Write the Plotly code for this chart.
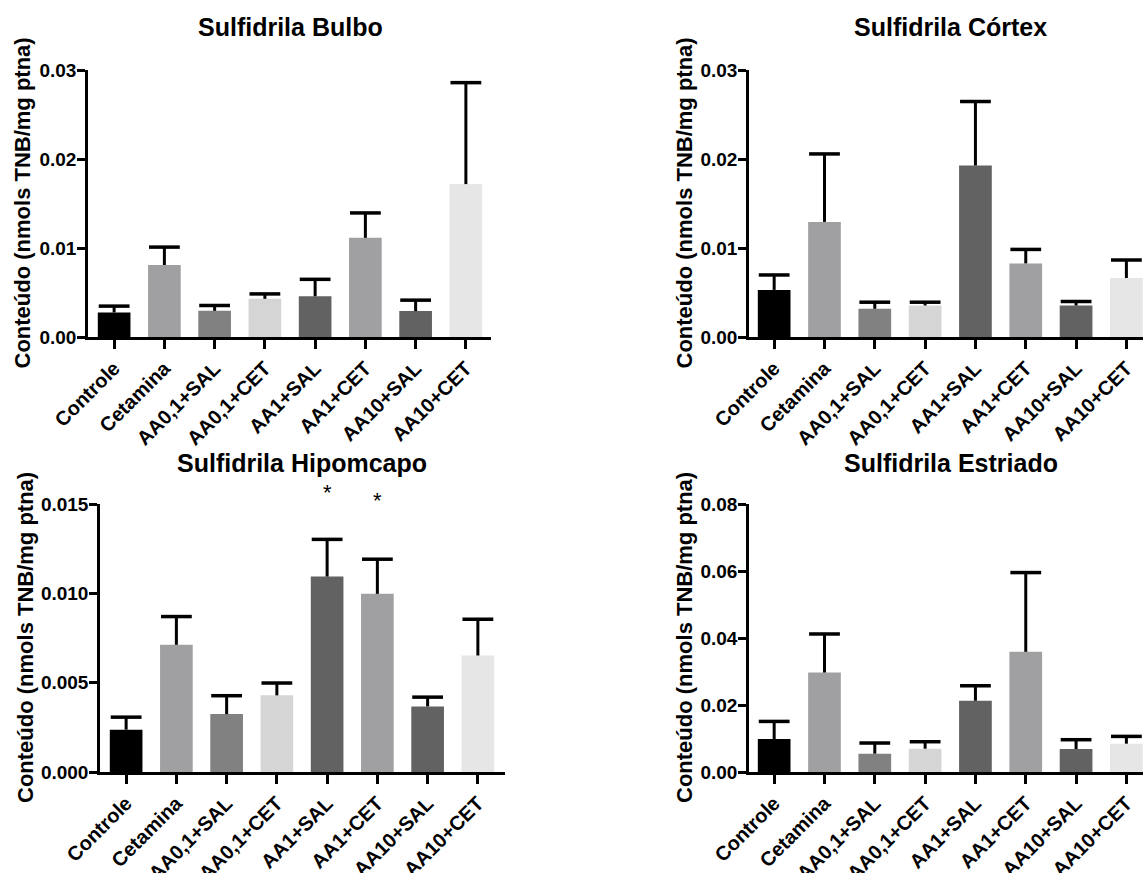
import plotly.graph_objects as go

W, H = 1143, 873

categories = ["Controle", "Cetamina", "AA0,1+SAL", "AA0,1+CET", "AA1+SAL", "AA1+CET", "AA10+SAL", "AA10+CET"]
bar_colors = ["#000000", "#a0a0a3", "#818181", "#d5d5d5", "#626262", "#a0a0a3", "#626262", "#e6e6e6"]

bulbo_mean = [0.00276, 0.00809, 0.00294, 0.00429, 0.00458, 0.01114, 0.00291, 0.01718]
bulbo_top = [0.00347, 0.01010, 0.00354, 0.00484, 0.00648, 0.01394, 0.00414, 0.02858]

cortex_mean = [0.00529, 0.01293, 0.00317, 0.00354, 0.01927, 0.00827, 0.00354, 0.00663]
cortex_top = [0.00697, 0.02057, 0.00391, 0.00391, 0.02646, 0.00984, 0.00399, 0.00865]

hipo_mean = [0.00237, 0.00712, 0.00324, 0.00429, 0.01094, 0.00997, 0.00367, 0.00652]
hipo_top = [0.00307, 0.00870, 0.00427, 0.00498, 0.01302, 0.01191, 0.00419, 0.00855]

estr_mean = [0.00984, 0.02970, 0.00547, 0.00696, 0.02127, 0.03588, 0.00686, 0.00845]
estr_top = [0.01510, 0.04120, 0.00865, 0.00904, 0.02574, 0.05953, 0.00964, 0.01063]

titles = ["Sulfidrila Bulbo", "Sulfidrila Córtex", "Sulfidrila Hipomcapo", "Sulfidrila Estriado"]
y_title = "Conteúdo (nmols TNB/mg ptna)"
y_ticks = [
    ([0, 0.01, 0.02, 0.03], ["0.00", "0.01", "0.02", "0.03"]),
    ([0, 0.01, 0.02, 0.03], ["0.00", "0.01", "0.02", "0.03"]),
    ([0, 0.005, 0.010, 0.015], ["0.000", "0.005", "0.010", "0.015"]),
    ([0, 0.02, 0.04, 0.06, 0.08], ["0.00", "0.02", "0.04", "0.06", "0.08"]),
]
y_max = [0.03, 0.03, 0.015, 0.08]
star_cats = ["AA1+SAL", "AA1+CET"]
star_y = [0.01567, 0.01517]

panels = [
    (bulbo_mean, bulbo_top),
    (cortex_mean, cortex_top),
    (hipo_mean, hipo_top),
    (estr_mean, estr_top),
]

# pixel layout: (x_left, x_right, y_zero, y_top, xrange)
px = [
    (88, 491, 337, 70, [-0.52, 7.5]),
    (749, 1143, 337, 70, [-0.5, 7.33]),
    (100, 505, 772, 504, [-0.52, 7.54]),
    (749, 1143, 772, 504, [-0.5, 7.33]),
]
title_pos = [(290, 27), (950, 27), (302, 463), (951, 463)]
ytitle_x = [22, 684, 25, 684]

FONT = "Liberation Sans, Arial, sans-serif"
fig = go.Figure()
layout = dict(
    width=W, height=H, margin=dict(l=0, r=0, t=0, b=0, pad=0, autoexpand=False),
    paper_bgcolor="white", plot_bgcolor="white", showlegend=False,
    font=dict(family=FONT, color="black"),
    annotations=[],
)

for i, (mean, top) in enumerate(panels):
    xa = "x" if i == 0 else f"x{i+1}"
    ya = "y" if i == 0 else f"y{i+1}"
    err = [t - m for t, m in zip(top, mean)]
    fig.add_trace(go.Bar(
        x=categories, y=mean, xaxis=xa, yaxis=ya,
        marker=dict(color=bar_colors, line=dict(width=0)),
        width=0.65,
        error_y=dict(type="data", symmetric=False, array=err, arrayminus=[0] * len(err),
                     color="black", thickness=3, width=0),
        cliponaxis=False,
    ))
    # caps on top of error bars
    fig.add_trace(go.Scatter(
        x=categories, y=top, xaxis=xa, yaxis=ya, mode="markers",
        marker=dict(symbol="line-ew", size=22, color="black",
                    line=dict(width=3.5, color="black")),
        cliponaxis=False, hoverinfo="skip",
    ))
    xl, xr, y0, yt, xr_range = px[i]
    kx = "xaxis" if i == 0 else f"xaxis{i+1}"
    ky = "yaxis" if i == 0 else f"yaxis{i+1}"
    layout[kx] = dict(
        domain=[xl / W, xr / W], anchor=ya, range=xr_range, type="category",
        automargin=False,
        showline=True, linecolor="black", linewidth=2.5, showgrid=False, zeroline=False,
        ticks="outside", ticklen=9, tickwidth=2.5, tickcolor="black",
        tickangle=-45, tickfont=dict(size=20, family=FONT, weight="bold", color="black"),
        fixedrange=True,
    )
    tv, tt = y_ticks[i]
    layout[ky] = dict(
        domain=[(H - y0) / H, (H - yt) / H], anchor=xa, range=[0, y_max[i]],
        automargin=False,
        showline=True, linecolor="black", linewidth=2.5, showgrid=False, zeroline=False,
        ticks="outside", ticklen=8, tickwidth=2.5, tickcolor="black",
        tickvals=tv, ticktext=tt, ticklabelstandoff=-3,
        tickfont=dict(size=19, family=FONT, weight="bold", color="black"),
        fixedrange=True,
    )
    tx, ty = title_pos[i]
    layout["annotations"].append(dict(
        text=titles[i], x=tx / W, y=(H - ty) / H, xref="paper", yref="paper",
        showarrow=False, xanchor="center", yanchor="middle",
        font=dict(size=25, family=FONT, weight="bold", color="black"),
    ))
    layout["annotations"].append(dict(
        text=y_title, x=ytitle_x[i] / W, y=(H - (y0 + yt) / 2) / H, xref="paper", yref="paper",
        showarrow=False, xanchor="center", yanchor="middle", textangle=-90,
        font=dict(size=22, family=FONT, weight="bold", color="black"),
    ))

for c, yv in zip(star_cats, star_y):
    layout["annotations"].append(dict(
        text="*", x=c, y=yv / y_max[2], xref="x3", yref="y3 domain", showarrow=False,
        xanchor="center", yanchor="middle",
        font=dict(size=22, family=FONT, color="black"),
    ))

fig.update_layout(**layout)
fig.write_html("out.html", config={"displayModeBar": False},
               post_script="document.body.style.margin='0';document.body.style.overflow='hidden';")
